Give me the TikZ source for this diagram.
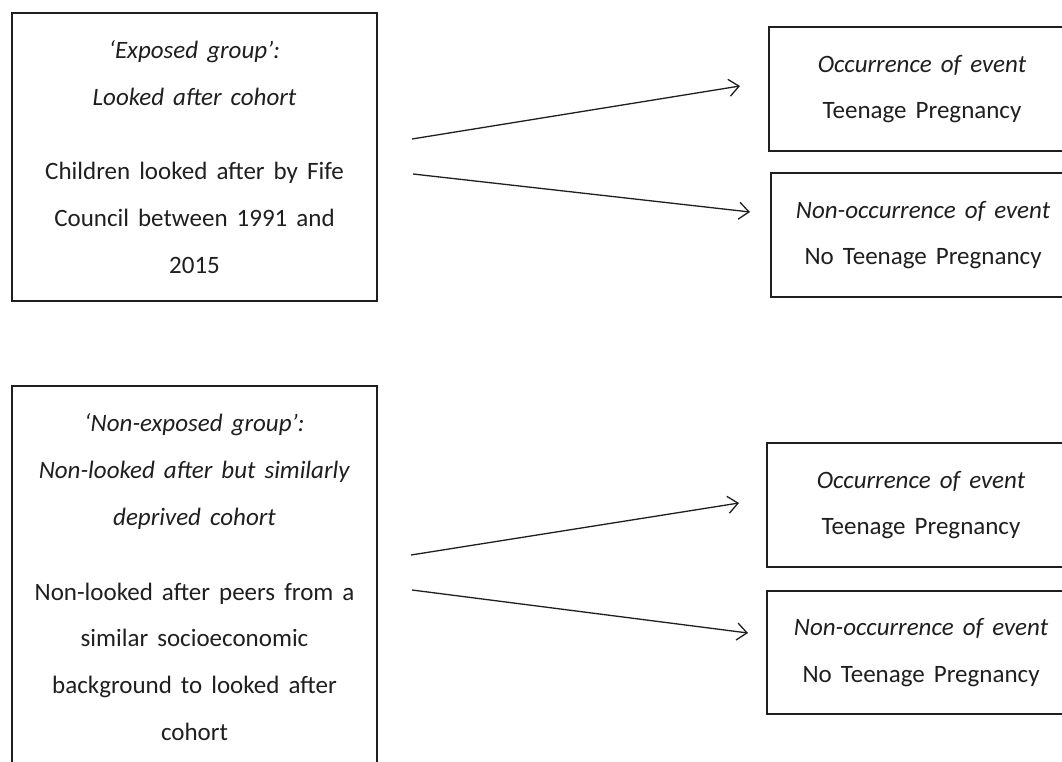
\documentclass[tikz,border=0pt]{standalone}
\usepackage{fontspec}
\setmainfont{Carlito}[WordSpace=1.6]
\usetikzlibrary{arrows.meta}
\definecolor{ink}{HTML}{1F1F1F}
\tikzset{
  box/.style={draw=ink, line width=1.3pt, rectangle, inner sep=0pt, align=center,
    text=ink, font=\fontsize{25pt}{46.7pt}\selectfont},
  arr/.style={draw=ink, line width=1.3pt, -{Straight Barb[length=10pt,width=17pt,line width=1.3pt]}}
}
\begin{document}
\begin{tikzpicture}[x=1pt,y=-1pt]
\useasboundingbox (0,0) rectangle (1062,762);
\clip (0,0) rectangle (1062,762);
\fill[white] (0,0) rectangle (1062,762);

% left boxes
\node[box, minimum width=365pt, minimum height=288pt] (A) at (194.5,157)
  {\textit{‘Exposed group’:}\\ \textit{Looked after cohort}\\[27.5pt]
   Children looked after by Fife\\ Council between 1991 and\\ 2015};
\node[box, minimum width=365pt, minimum height=382pt] (B) at (194.5,577)
  {\textit{‘Non-exposed group’:}\\ \textit{Non-looked after but similarly}\\ \textit{deprived cohort}\\[28.3pt]
   Non-looked after peers from a\\ similar socioeconomic\\ background to looked after\\ cohort};

% right boxes
\node[box, minimum width=306pt, minimum height=124pt] (R1) at (922,89)
  {\textit{Occurrence of event}\\ Teenage Pregnancy};
\node[box, minimum width=304pt, minimum height=124pt] (R2) at (923,235)
  {\textit{Non-occurrence of event}\\ No Teenage Pregnancy};
\node[box, minimum width=308pt, minimum height=124pt] (R3) at (921,505)
  {\textit{Occurrence of event}\\ Teenage Pregnancy};
\node[box, minimum width=308pt, minimum height=123pt] (R4) at (921,652.5)
  {\textit{Non-occurrence of event}\\ No Teenage Pregnancy};

% arrow end points
\coordinate (a1s) at (412,139);
\coordinate (a1e) at (740,86);
\coordinate (a2s) at (413,174);
\coordinate (a2e) at (750,212);
\coordinate (a3s) at (411,555);
\coordinate (a3e) at (739,503);
\coordinate (a4s) at (412,590);
\coordinate (a4e) at (748,633);

\draw[arr] (a1s) -- (a1e);
\draw[arr] (a2s) -- (a2e);
\draw[arr] (a3s) -- (a3e);
\draw[arr] (a4s) -- (a4e);
\end{tikzpicture}
\end{document}
